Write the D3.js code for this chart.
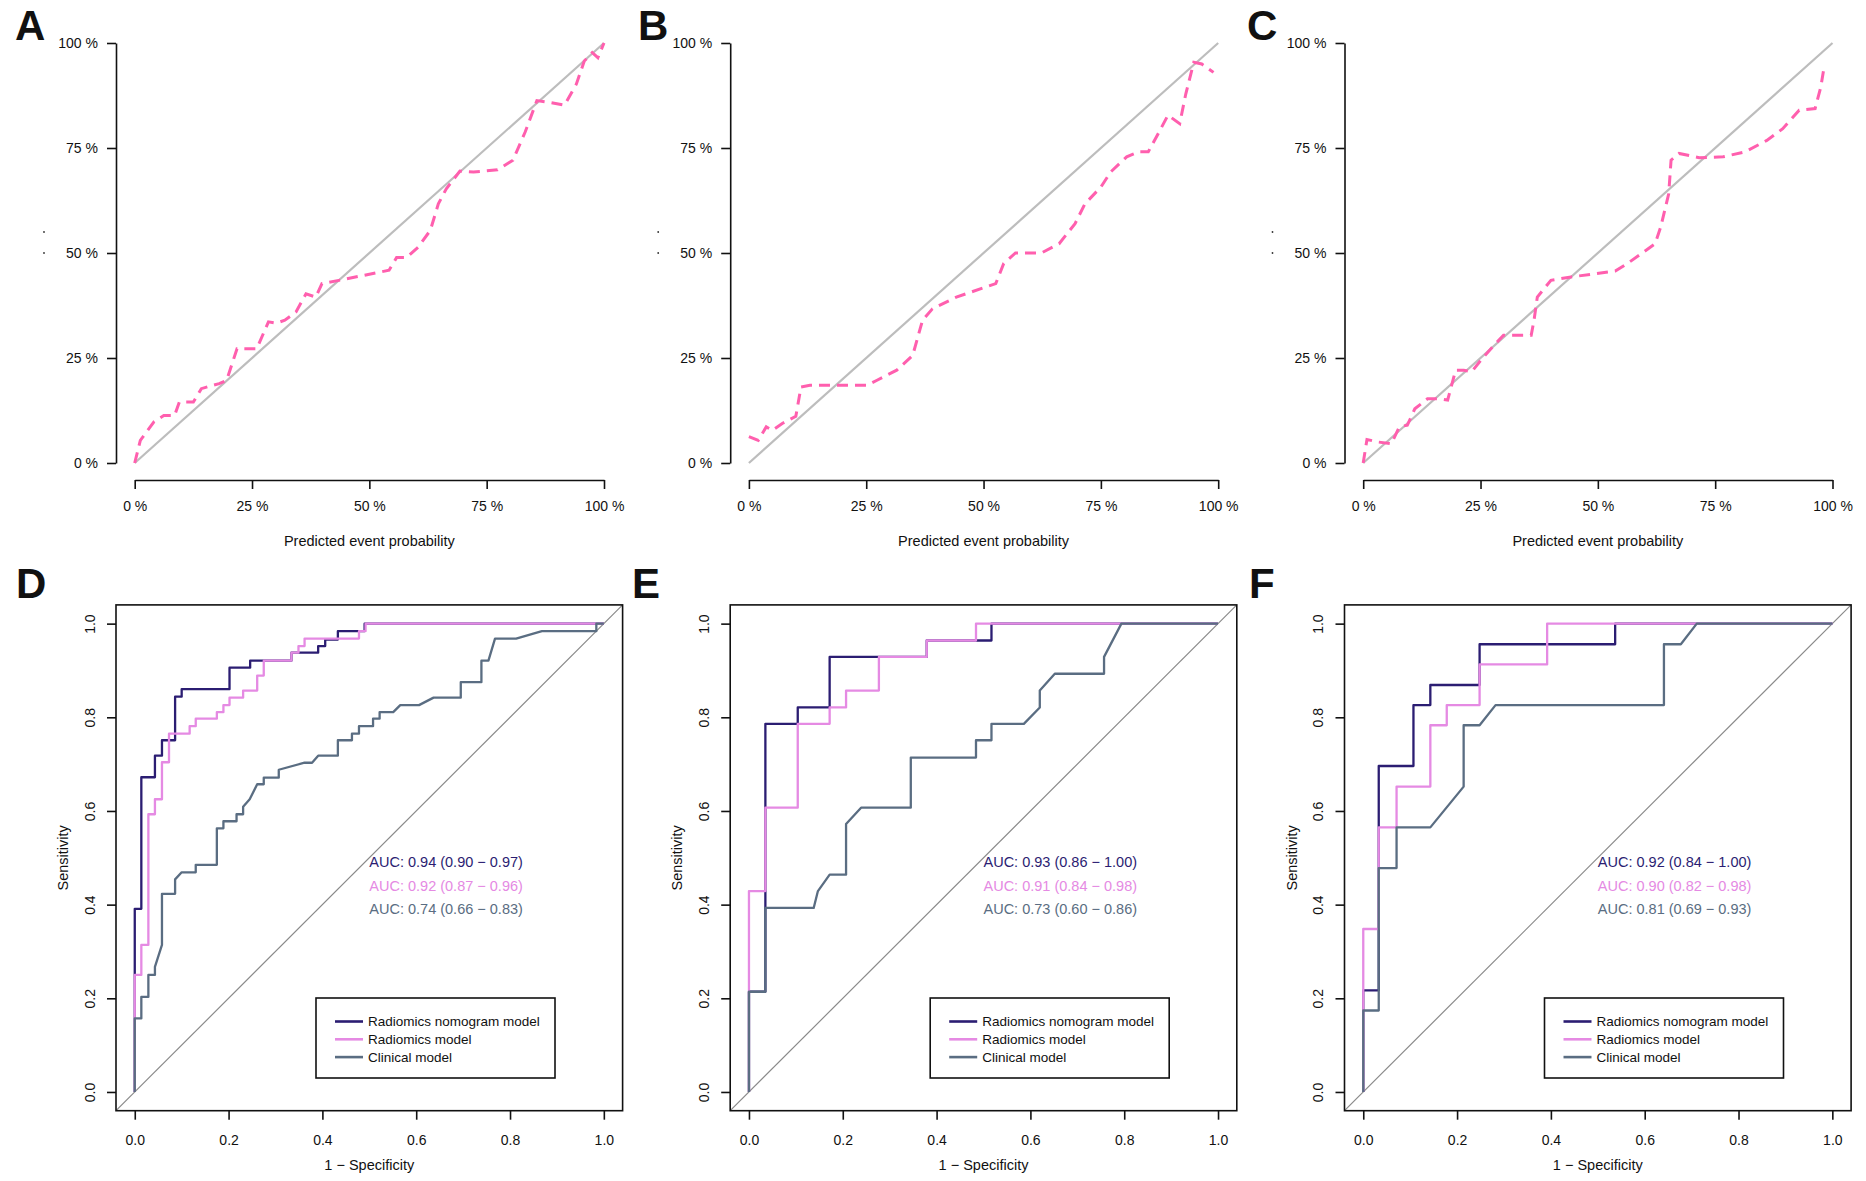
<!DOCTYPE html>
<html>
<head>
<meta charset="utf-8">
<script src="https://cdn.jsdelivr.net/npm/d3@7"></script>
<style>
  body { margin: 0; background: #fff; }
  svg text { font-family: "Liberation Sans", Arial, sans-serif; fill: #111; }
</style>
</head>
<body>
<div id="chart"></div>
<script>
// calibration curves (predicted vs observed), panels A B C
var calPredA = [0, 0.012, 0.041, 0.062, 0.085, 0.095, 0.125, 0.142, 0.16, 0.18, 0.196, 0.218, 0.26, 0.285, 0.302, 0.32, 0.344, 0.365, 0.386, 0.399, 0.412, 0.445, 0.542, 0.558, 0.579, 0.604, 0.63, 0.647, 0.664, 0.693, 0.722, 0.773, 0.806, 0.832, 0.857, 0.882, 0.916, 0.941, 0.958, 0.975, 0.987, 1.0];
var calObsA  = [0, 0.054, 0.098, 0.113, 0.113, 0.145, 0.145, 0.177, 0.183, 0.189, 0.197, 0.272, 0.272, 0.336, 0.333, 0.34, 0.36, 0.403, 0.395, 0.427, 0.43, 0.437, 0.459, 0.489, 0.489, 0.514, 0.554, 0.617, 0.653, 0.695, 0.693, 0.698, 0.721, 0.788, 0.863, 0.859, 0.852, 0.902, 0.957, 0.977, 0.965, 1.0];

var calPredB = [0, 0.02, 0.037, 0.05, 0.071, 0.1, 0.111, 0.13, 0.252, 0.273, 0.315, 0.349, 0.37, 0.391, 0.442, 0.526, 0.543, 0.568, 0.623, 0.661, 0.695, 0.716, 0.75, 0.771, 0.805, 0.831, 0.851, 0.872, 0.893, 0.918, 0.931, 0.948, 0.965, 0.99];
var calObsB  = [0.063, 0.054, 0.086, 0.078, 0.094, 0.111, 0.181, 0.185, 0.185, 0.197, 0.221, 0.256, 0.34, 0.367, 0.395, 0.427, 0.475, 0.5, 0.5, 0.522, 0.57, 0.617, 0.657, 0.693, 0.729, 0.741, 0.741, 0.784, 0.828, 0.808, 0.879, 0.954, 0.95, 0.93];

var calPredC = [0, 0.008, 0.031, 0.06, 0.077, 0.094, 0.11, 0.137, 0.163, 0.18, 0.197, 0.214, 0.231, 0.256, 0.282, 0.299, 0.358, 0.364, 0.371, 0.4, 0.443, 0.537, 0.563, 0.622, 0.634, 0.651, 0.656, 0.673, 0.716, 0.767, 0.814, 0.86, 0.894, 0.929, 0.963, 0.975, 0.981];
var calObsC  = [0, 0.056, 0.05, 0.046, 0.086, 0.09, 0.129, 0.153, 0.153, 0.15, 0.221, 0.221, 0.217, 0.252, 0.284, 0.304, 0.304, 0.34, 0.395, 0.435, 0.443, 0.457, 0.475, 0.522, 0.562, 0.641, 0.721, 0.737, 0.727, 0.729, 0.741, 0.768, 0.796, 0.84, 0.844, 0.895, 0.935];

var calTicks = [0, 0.25, 0.5, 0.75, 1];

// ROC curves (1 - specificity, sensitivity), panels D E F
var rocD_nomoX = [0, 0, 0.014, 0.014, 0.043, 0.043, 0.058, 0.058, 0.086, 0.086, 0.1, 0.1, 0.202, 0.202, 0.246, 0.246, 0.334, 0.334, 0.391, 0.391, 0.406, 0.406, 0.433, 0.433, 0.476, 0.476, 0.49, 0.49, 1];
var rocD_nomoY = [0, 0.391, 0.391, 0.672, 0.672, 0.718, 0.718, 0.751, 0.751, 0.844, 0.844, 0.86, 0.86, 0.906, 0.906, 0.921, 0.921, 0.938, 0.938, 0.952, 0.952, 0.966, 0.966, 0.984, 0.984, 0.984, 0.984, 1, 1];
var rocD_radX = [0, 0, 0.014, 0.014, 0.029, 0.029, 0.043, 0.043, 0.058, 0.058, 0.073, 0.073, 0.117, 0.117, 0.13, 0.13, 0.175, 0.175, 0.189, 0.189, 0.202, 0.202, 0.231, 0.231, 0.261, 0.261, 0.275, 0.275, 0.334, 0.334, 0.349, 0.349, 0.362, 0.362, 0.478, 0.478, 0.492, 0.492, 1];
var rocD_radY = [0, 0.25, 0.25, 0.314, 0.314, 0.593, 0.593, 0.625, 0.625, 0.704, 0.704, 0.765, 0.765, 0.781, 0.781, 0.797, 0.797, 0.811, 0.811, 0.826, 0.826, 0.842, 0.842, 0.857, 0.857, 0.889, 0.889, 0.921, 0.921, 0.938, 0.938, 0.952, 0.952, 0.968, 0.968, 0.984, 0.984, 1, 1];
var rocD_cliX = [0, 0, 0.014, 0.014, 0.029, 0.029, 0.043, 0.043, 0.058, 0.058, 0.086, 0.086, 0.1, 0.13, 0.13, 0.175, 0.175, 0.189, 0.189, 0.217, 0.217, 0.231, 0.231, 0.245, 0.261, 0.275, 0.275, 0.307, 0.307, 0.362, 0.378, 0.391, 0.433, 0.433, 0.463, 0.463, 0.478, 0.478, 0.508, 0.508, 0.522, 0.522, 0.551, 0.566, 0.606, 0.637, 0.695, 0.695, 0.739, 0.739, 0.754, 0.768, 0.813, 0.868, 0.984, 0.984, 1];
var rocD_cliY = [0, 0.157, 0.157, 0.203, 0.203, 0.25, 0.25, 0.267, 0.314, 0.423, 0.423, 0.454, 0.469, 0.469, 0.485, 0.485, 0.563, 0.563, 0.578, 0.578, 0.593, 0.593, 0.609, 0.625, 0.657, 0.657, 0.671, 0.671, 0.688, 0.703, 0.703, 0.718, 0.718, 0.751, 0.751, 0.765, 0.765, 0.781, 0.781, 0.797, 0.797, 0.811, 0.811, 0.826, 0.826, 0.842, 0.842, 0.875, 0.875, 0.921, 0.921, 0.968, 0.968, 0.984, 0.984, 1, 1];

var rocE_nomoX = [0, 0, 0.035, 0.035, 0.104, 0.104, 0.172, 0.172, 0.379, 0.379, 0.517, 0.517, 1];
var rocE_nomoY = [0, 0.214, 0.214, 0.786, 0.786, 0.821, 0.821, 0.929, 0.929, 0.964, 0.964, 1, 1];
var rocE_radX = [0, 0, 0.035, 0.035, 0.104, 0.104, 0.172, 0.172, 0.207, 0.207, 0.277, 0.277, 0.379, 0.379, 0.484, 0.484, 1];
var rocE_radY = [0, 0.429, 0.429, 0.607, 0.607, 0.786, 0.786, 0.821, 0.821, 0.857, 0.857, 0.929, 0.929, 0.964, 0.964, 1, 1];
var rocE_cliX = [0, 0, 0.035, 0.035, 0.138, 0.147, 0.172, 0.207, 0.207, 0.239, 0.345, 0.345, 0.484, 0.484, 0.517, 0.517, 0.586, 0.62, 0.62, 0.652, 0.757, 0.757, 0.794, 1];
var rocE_cliY = [0, 0.214, 0.214, 0.393, 0.393, 0.429, 0.464, 0.464, 0.572, 0.607, 0.607, 0.714, 0.714, 0.751, 0.751, 0.786, 0.786, 0.821, 0.857, 0.893, 0.893, 0.929, 1, 1];

var rocF_nomoX = [0, 0, 0.033, 0.033, 0.107, 0.107, 0.143, 0.143, 0.248, 0.248, 0.537, 0.537, 1];
var rocF_nomoY = [0, 0.217, 0.217, 0.696, 0.696, 0.826, 0.826, 0.869, 0.869, 0.956, 0.956, 1, 1];
var rocF_radX = [0, 0, 0.033, 0.033, 0.071, 0.071, 0.143, 0.143, 0.178, 0.178, 0.248, 0.248, 0.392, 0.392, 1];
var rocF_radY = [0, 0.348, 0.348, 0.565, 0.565, 0.652, 0.652, 0.783, 0.783, 0.826, 0.826, 0.913, 0.913, 1, 1];
var rocF_cliX = [0, 0, 0.033, 0.033, 0.071, 0.071, 0.143, 0.214, 0.214, 0.248, 0.282, 0.641, 0.641, 0.677, 0.711, 1];
var rocF_cliY = [0, 0.174, 0.174, 0.478, 0.478, 0.565, 0.565, 0.652, 0.783, 0.783, 0.826, 0.826, 0.956, 0.956, 1, 1];

var rocTicks = [0, 0.2, 0.4, 0.6, 0.8, 1.0];
var modelNames = ["Radiomics nomogram model", "Radiomics model", "Clinical model"];
var modelColors = ["#2b1d72", "#e58ae3", "#5a6d82"];
var aucD = ["AUC: 0.94 (0.90 \u2212 0.97)", "AUC: 0.92 (0.87 \u2212 0.96)", "AUC: 0.74 (0.66 \u2212 0.83)"];
var aucE = ["AUC: 0.93 (0.86 \u2212 1.00)", "AUC: 0.91 (0.84 \u2212 0.98)", "AUC: 0.73 (0.60 \u2212 0.86)"];
var aucF = ["AUC: 0.92 (0.84 \u2212 1.00)", "AUC: 0.90 (0.82 \u2212 0.98)", "AUC: 0.81 (0.69 \u2212 0.93)"];

var W = 1866, H = 1181;
var panelDX = [0, 614.2, 1228.5];

var svg = d3.select("#chart").append("svg")
	.attr("width", W)
	.attr("height", H);

function zip(xs, ys){
	return xs.map(function(d, i){ return [d, ys[i]]; });
}

/**@function drawCalibration
* one calibration panel (top row)
*/
function drawCalibration(k, letter, letterX, pred, obs){
	var dx = panelDX[k];
	var g = svg.append("g").attr("transform", "translate(" + dx + ",0)");
	var x = d3.scaleLinear().domain([0, 1]).range([134.7, 604]);
	var y = d3.scaleLinear().domain([0, 1]).range([463, 43]);

	svg.append("text")
		.attr("x", letterX).attr("y", 40)
		.style("font-size", "42px").style("font-weight", "bold")
		.text(letter);

	//x axis
	var xa = g.append("g")
		.attr("transform", "translate(0,480)")
		.call(d3.axisBottom(x).tickValues(calTicks).tickSize(9).tickSizeOuter(0)
			.tickFormat(function(d){ return Math.round(d*100) + " %"; }));
	xa.select(".domain").attr("stroke", "#111").attr("stroke-width", 1.6);
	xa.selectAll(".tick line").attr("stroke", "#111").attr("stroke-width", 1.6);
	xa.selectAll(".tick text").attr("y", 21).attr("dy", "0.71em")
		.style("font-size", "14px").attr("fill", "#111");

	//y axis
	var ya = g.append("g")
		.attr("transform", "translate(116,0)")
		.call(d3.axisLeft(y).tickValues(calTicks).tickSize(9).tickSizeOuter(0)
			.tickFormat(function(d){ return Math.round(d*100) + " %"; }));
	ya.select(".domain").attr("stroke", "#111").attr("stroke-width", 1.6);
	ya.selectAll(".tick line").attr("stroke", "#111").attr("stroke-width", 1.6);
	ya.selectAll(".tick text").attr("x", -18)
		.style("font-size", "14px").attr("fill", "#111");

	g.append("text")
		.attr("x", x(0.5)).attr("y", 546)
		.attr("text-anchor", "middle")
		.style("font-size", "14.5px")
		.text("Predicted event probability");

	//the tiny leftover y label marks
	g.selectAll(".ydot").data([0.55, 0.5]).enter()
		.append("circle")
		.attr("cx", 44).attr("cy", function(d){ return y(d); })
		.attr("r", 0.9).attr("fill", "#333");

	//ideal line
	g.append("path")
		.attr("d", d3.line()([[x(0), y(0)], [x(1), y(1)]]))
		.attr("stroke", "#bdbdbd").attr("stroke-width", 2.2).attr("fill", "none");

	g.append("path")
		.datum(zip(pred, obs))
		.attr("d", d3.line().x(function(d){ return x(d[0]); }).y(function(d){ return y(d[1]); }))
		.attr("stroke", "#ff5fae").attr("stroke-width", 3)
		.attr("stroke-dasharray", "11,7")
		.attr("fill", "none");
}

/**@function drawROC
* one ROC panel (bottom row)
*/
function drawROC(k, letter, letterX, curves, aucText){
	var dx = panelDX[k];
	var g = svg.append("g").attr("transform", "translate(" + dx + ",0)");
	var x = d3.scaleLinear().domain([-0.04, 1.04]).range([116, 622.6]);
	var y = d3.scaleLinear().domain([-0.04, 1.04]).range([1110.7, 604.9]);

	svg.append("text")
		.attr("x", letterX).attr("y", 598)
		.style("font-size", "42px").style("font-weight", "bold")
		.text(letter);

	//diagonal reference
	g.append("path")
		.attr("d", d3.line()([[x(-0.04), y(-0.04)], [x(1.04), y(1.04)]]))
		.attr("stroke", "#8a8a8a").attr("stroke-width", 1.2).attr("fill", "none");

	var line = d3.line().x(function(d){ return x(d[0]); }).y(function(d){ return y(d[1]); });
	curves.forEach(function(c, i){
		g.append("path")
			.datum(zip(c[0], c[1]))
			.attr("d", line)
			.attr("stroke", modelColors[i]).attr("stroke-width", 2.3)
			.attr("stroke-linejoin", "round")
			.attr("fill", "none");
	});

	//box
	g.append("rect")
		.attr("x", x(-0.04)).attr("y", y(1.04))
		.attr("width", x(1.04) - x(-0.04)).attr("height", y(-0.04) - y(1.04))
		.attr("fill", "none").attr("stroke", "#111").attr("stroke-width", 1.6);

	var xa = g.append("g")
		.attr("transform", "translate(0," + y(-0.04) + ")")
		.call(d3.axisBottom(x).tickValues(rocTicks).tickSize(9).tickSizeOuter(0)
			.tickFormat(d3.format(".1f")));
	xa.select(".domain").remove();
	xa.selectAll(".tick line").attr("stroke", "#111").attr("stroke-width", 1.6);
	xa.selectAll(".tick text").attr("y", 24).attr("dy", "0.71em")
		.style("font-size", "14px").attr("fill", "#111");

	var ya = g.append("g")
		.attr("transform", "translate(" + x(-0.04) + ",0)")
		.call(d3.axisLeft(y).tickValues(rocTicks).tickSize(9).tickSizeOuter(0)
			.tickFormat(d3.format(".1f")));
	ya.select(".domain").remove();
	ya.selectAll(".tick line").attr("stroke", "#111").attr("stroke-width", 1.6);
	ya.selectAll(".tick text")
		.attr("x", 0).attr("y", 0).attr("dy", "0.35em")
		.attr("text-anchor", "middle")
		.attr("transform", "translate(-26,0) rotate(-90)")
		.style("font-size", "14px").attr("fill", "#111");

	g.append("text")
		.attr("x", x(0.5)).attr("y", 1170)
		.attr("text-anchor", "middle")
		.style("font-size", "14.5px")
		.text("1 \u2212 Specificity");

	g.append("text")
		.attr("transform", "translate(68," + y(0.5) + ") rotate(-90)")
		.attr("text-anchor", "middle")
		.style("font-size", "14.5px")
		.text("Sensitivity");

	//AUC labels
	g.selectAll(".auc").data(aucText).enter()
		.append("text")
		.attr("x", x(0.5))
		.attr("y", function(d, i){ return y(0.5 - i*0.05); })
		.attr("dy", "0.65em")
		.style("font-size", "14.5px")
		.style("fill", function(d, i){ return modelColors[i]; })
		.text(function(d){ return d; });

	//legend
	var lg = g.append("g").attr("transform", "translate(316,998)");
	lg.append("rect")
		.attr("width", 239).attr("height", 80)
		.attr("fill", "#fff").attr("stroke", "#111").attr("stroke-width", 1.6);
	var rows = lg.selectAll(".row").data(modelNames).enter()
		.append("g")
		.attr("transform", function(d, i){ return "translate(0," + (23.5 + i*17.8) + ")"; });
	rows.append("line")
		.attr("x1", 19).attr("x2", 47)
		.attr("stroke", function(d, i){ return modelColors[i]; })
		.attr("stroke-width", 2.6);
	rows.append("text")
		.attr("x", 52).attr("dy", "0.35em")
		.style("font-size", "13.5px")
		.text(function(d){ return d; });
}

drawCalibration(0, "A", 15, calPredA, calObsA);
drawCalibration(1, "B", 638, calPredB, calObsB);
drawCalibration(2, "C", 1247, calPredC, calObsC);

drawROC(0, "D", 16, [[rocD_nomoX, rocD_nomoY], [rocD_radX, rocD_radY], [rocD_cliX, rocD_cliY]], aucD);
drawROC(1, "E", 632, [[rocE_nomoX, rocE_nomoY], [rocE_radX, rocE_radY], [rocE_cliX, rocE_cliY]], aucE);
drawROC(2, "F", 1249, [[rocF_nomoX, rocF_nomoY], [rocF_radX, rocF_radY], [rocF_cliX, rocF_cliY]], aucF);
</script>
</body>
</html>
